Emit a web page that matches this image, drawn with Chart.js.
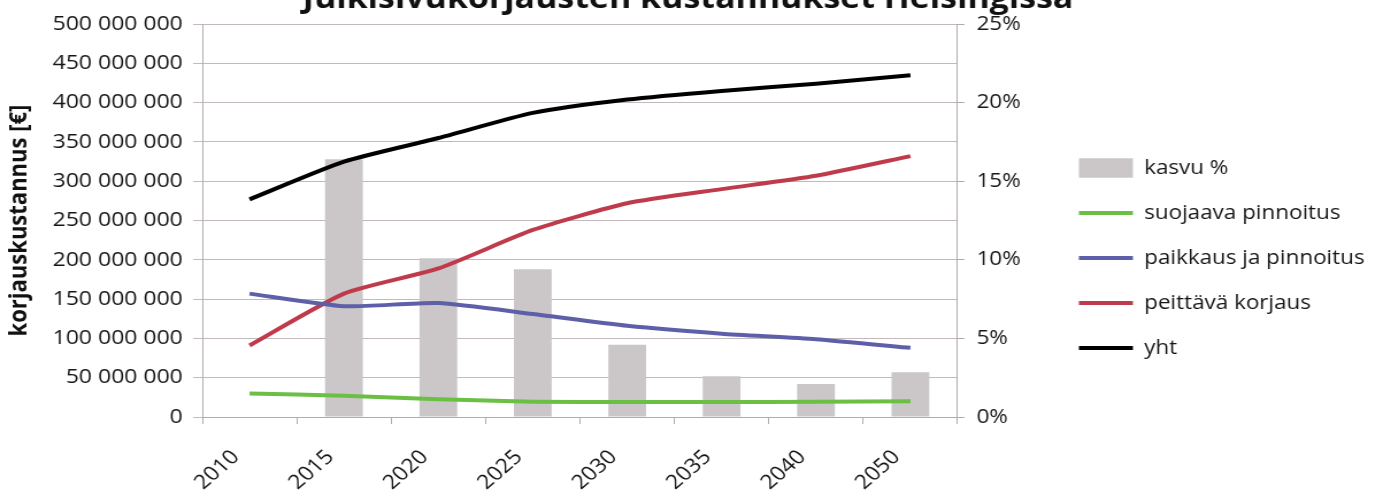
<!DOCTYPE html>
<html>
<head>
<meta charset="utf-8">
<script src="https://cdn.jsdelivr.net/npm/chart.js@4.4.1/dist/chart.umd.min.js"></script>
<style>
  html, body { margin: 0; padding: 0; background: #ffffff; overflow: hidden; }
  #wrap { width: 1203px; height: 493px; transform: scaleX(1.14963); transform-origin: 0 0; }
  canvas { display: block; }
</style>
</head>
<body>
<div id="wrap"><canvas id="chart" width="1203" height="493"></canvas></div>
<script>
// Vuodet (x-akseli)
const categories = ['2010', '2015', '2020', '2025', '2030', '2035', '2040', '2050'];

// Kustannusten kasvu edelliseen ajankohtaan, %
const kasvu = [null, 16.4, 10.1, 9.4, 4.6, 2.6, 2.1, 2.85];

// Korjauskustannukset korjaustavoittain, €
const suojaava = [30e6, 27e6, 22.5e6, 19.5e6, 19e6, 19e6, 19.5e6, 20e6];
const paikkaus = [157e6, 141e6, 145e6, 131e6, 116e6, 106e6, 99e6, 88e6];
const peittava = [91e6, 157e6, 189e6, 238e6, 272e6, 290e6, 307e6, 332e6];
const yht = [277e6, 325e6, 355e6, 387e6, 404e6, 415e6, 424e6, 435e6];

// Akselien asteikot
const euroTicks = { min: 0, max: 500e6, step: 50e6 };
const pctTicks = { min: 0, max: 25, step: 5 };

const euroLabel = v => String(Math.round(v)).replace(/\B(?=(\d{3})+(?!\d))/g, ' ');

Chart.defaults.font.family = "'Open Sans', 'DejaVu Sans', sans-serif";
Chart.defaults.color = '#161616';

const axisColor = '#b3abab';
const gridColor = '#c2baba';

const line = (label, data, color) => ({
  type: 'line', label, data, yAxisID: 'y',
  borderColor: color, backgroundColor: color,
  borderWidth: 4, pointRadius: 0, tension: 0.2, order: 0
});

new Chart(document.getElementById('chart'), {
  type: 'bar',
  data: {
    labels: categories,
    datasets: [
      { type: 'bar', label: 'kasvu %', data: kasvu, yAxisID: 'yPct',
        backgroundColor: '#cbc7c9', barPercentage: 0.4, categoryPercentage: 1, order: 1 },
      line('suojaava pinnoitus', suojaava, '#6bbf45'),
      line('paikkaus ja pinnoitus', paikkaus, '#5d5fa8'),
      line('peittävä korjaus', peittava, '#bf3b4c'),
      line('yht', yht, '#000000')
    ]
  },
  options: {
    responsive: false,
    animation: false,
    layout: { padding: { right: 6, bottom: 0 } },
    plugins: {
      tooltip: { enabled: false },
      title: {
        display: true,
        text: 'Julkisivukorjausten kustannukset Helsingissä',
        font: { size: 29.5, weight: 'bold' },
        color: '#111111',
        padding: { top: -18, bottom: 6.7 }
      },
      legend: {
        position: 'right',
        maxWidth: 400,
        title: { display: true, text: '', padding: { top: 8.6, bottom: 0 } },
        labels: {
          usePointStyle: true,
          pointStyleWidth: 47,
          boxHeight: 20,
          padding: 25.5,
          font: { size: 19.5 },
          color: '#161616',
          sort: (a, b) => a.datasetIndex - b.datasetIndex,
          generateLabels(chart) {
            const items = Chart.defaults.plugins.legend.labels.generateLabels(chart);
            items.forEach(it => {
              const ds = chart.data.datasets[it.datasetIndex];
              if (ds.type === 'bar') {
                it.pointStyle = 'rect';
                it.fillStyle = ds.backgroundColor;
                it.strokeStyle = ds.backgroundColor;
                it.lineWidth = 0;
              } else {
                it.pointStyle = 'line';
                it.strokeStyle = ds.borderColor;
                it.lineWidth = 4;
              }
            });
            return items;
          }
        }
      }
    },
    scales: {
      x: {
        grid: { drawOnChartArea: false, tickLength: 7, color: axisColor },
        border: { color: axisColor },
        ticks: { minRotation: 45, maxRotation: 45, font: { size: 20 }, padding: 21.5, labelOffset: -12 },
        afterFit(scale) { scale.height = 76; }
      },
      y: {
        position: 'left',
        min: euroTicks.min, max: euroTicks.max,
        ticks: { stepSize: euroTicks.step, callback: euroLabel, font: { size: 20 }, padding: 9 },
        grid: { color: gridColor, tickLength: 8 },
        border: { color: axisColor },
        title: {
          display: true, text: 'korjauskustannus [€]',
          font: { size: 22, weight: 'bold' }, color: '#111111',
          padding: { top: 4, bottom: 0 }
        },
        afterFit(scale) { scale.width = 176; }
      },
      yPct: {
        position: 'right',
        min: pctTicks.min, max: pctTicks.max,
        ticks: { stepSize: pctTicks.step, callback: v => v + '%', font: { size: 19.5 }, padding: 10.5 },
        grid: { drawOnChartArea: false, tickLength: 6, color: axisColor },
        border: { color: axisColor },
        afterFit(scale) { scale.width = 80; }
      }
    }
  }
});
</script>
</body>
</html>
